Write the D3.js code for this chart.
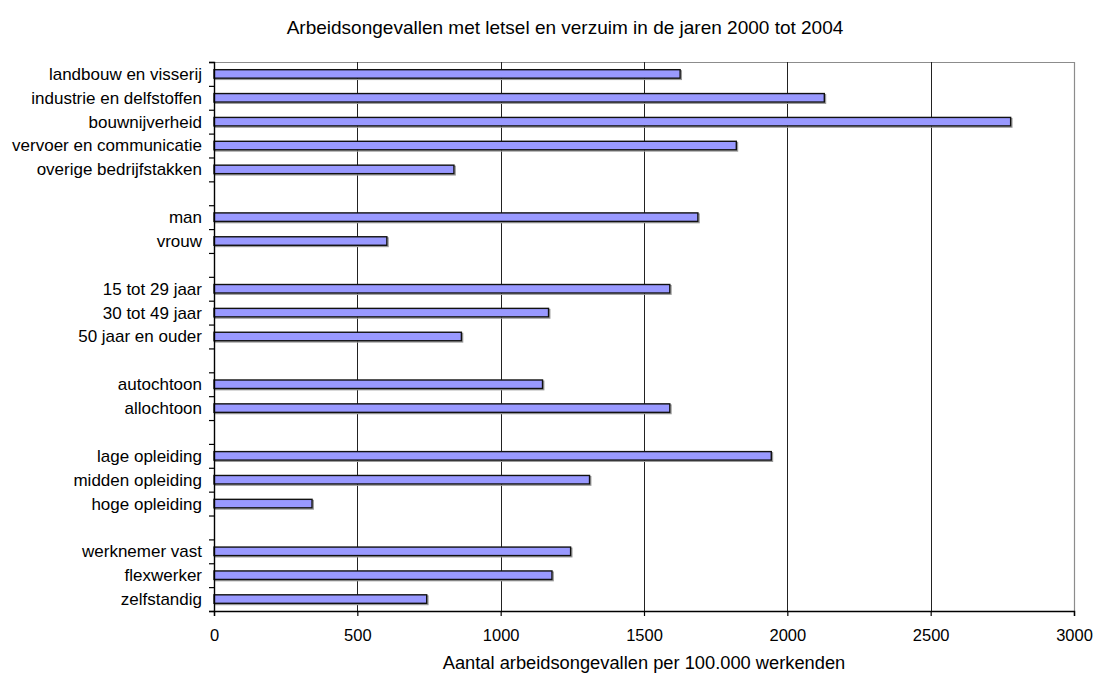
<!DOCTYPE html>
<html>
<head>
<meta charset="utf-8">
<script src="https://cdn.jsdelivr.net/npm/d3@7/dist/d3.min.js"></script>
<style>
  html, body { margin: 0; padding: 0; background: #fff; }
  svg { display: block; font-family: "Liberation Sans", Arial, sans-serif; }
</style>
</head>
<body>
<svg id="chart" width="1095" height="673"></svg>
<script>
// Accidents at work with injury and absence, per 100,000 workers (2000-2004)
const categories = [
  "landbouw en visserij", "industrie en delfstoffen", "bouwnijverheid",
  "vervoer en communicatie", "overige bedrijfstakken",
  "man", "vrouw",
  "15 tot 29 jaar", "30 tot 49 jaar", "50 jaar en ouder",
  "autochtoon", "allochtoon",
  "lage opleiding", "midden opleiding", "hoge opleiding",
  "werknemer vast", "flexwerker", "zelfstandig"
];
const values = [
  1626, 2129, 2779, 1822, 837,
  1688, 603,
  1590, 1167, 863,
  1146, 1590,
  1944, 1310, 342,
  1244, 1179, 742
];
// number of consecutive categories in each group; an empty row separates groups
const groupSizes = [5, 2, 3, 2, 3, 3];
const xTicks = [0, 500, 1000, 1500, 2000, 2500, 3000];
const title = "Arbeidsongevallen met letsel en verzuim in de jaren 2000 tot 2004";
const xTitle = "Aantal arbeidsongevallen per 100.000 werkenden";

// Build the row list with blank separator rows between groups
const rows = [];
let k = 0;
groupSizes.forEach((n, g) => {
  for (let i = 0; i < n; i++, k++) rows.push({ label: categories[k], value: values[k] });
  if (g < groupSizes.length - 1) rows.push({ label: null, value: null });
});

const svg = d3.select("#chart");
const plot = { left: 214, right: 1074, top: 62, bottom: 611 };

const x = d3.scaleLinear().domain([0, 3000]).range([plot.left, plot.right]);
const y = d3.scaleBand().domain(d3.range(rows.length)).range([plot.top, plot.bottom]).padding(0);
const rowEdge = d3.scaleLinear().domain([0, rows.length]).range([plot.top, plot.bottom]);

// Title
svg.append("text")
  .attr("x", 565).attr("y", 34)
  .attr("text-anchor", "middle")
  .attr("font-size", 19)
  .attr("fill", "#000")
  .text(title);

// Plot frame (top and right in grey)
svg.append("path")
  .attr("d", `M${plot.left},${plot.top + 0.5}H${plot.right + 0.5}V${plot.bottom}`)
  .attr("fill", "none").attr("stroke", "#8c8c8c").attr("stroke-width", 1.2);

// Vertical gridlines
svg.append("g").selectAll("line")
  .data(xTicks.filter(t => t > 0 && t < 3000))
  .join("line")
  .attr("x1", d => Math.round(x(d)) + 0.5).attr("x2", d => Math.round(x(d)) + 0.5)
  .attr("y1", plot.top).attr("y2", plot.bottom)
  .attr("stroke", "#222").attr("stroke-width", 1);

// Bars: grey drop shadow, then the filled bar with a dark outline
const barH = 8.5;
const data = rows.map((r, i) => ({ ...r, i })).filter(r => r.value != null);

svg.append("g").selectAll("rect")
  .data(data)
  .join("rect")
  .attr("x", x(0) + 1.2)
  .attr("y", d => y(d.i) + (y.bandwidth() - barH) / 2 + 1.2)
  .attr("width", d => x(d.value) - x(0))
  .attr("height", barH)
  .attr("fill", "none")
  .attr("stroke", "#9a9a9a")
  .attr("stroke-width", 1.4);

svg.append("g").selectAll("rect")
  .data(data)
  .join("rect")
  .attr("x", x(0))
  .attr("y", d => y(d.i) + (y.bandwidth() - barH) / 2)
  .attr("width", d => x(d.value) - x(0))
  .attr("height", barH)
  .attr("fill", "#9999ff")
  .attr("stroke", "#111")
  .attr("stroke-width", 1.4);

// Category axis: tick marks at every row edge
const yAxis = svg.append("g")
  .attr("transform", `translate(${plot.left},0)`)
  .call(d3.axisLeft(rowEdge).tickValues(d3.range(rows.length + 1)).tickSize(5).tickFormat(""));
yAxis.select(".domain").attr("stroke", "#000").attr("stroke-width", 1.4);
yAxis.selectAll(".tick line").attr("stroke", "#000").attr("stroke-width", 1.2);

// Category labels
svg.append("g").selectAll("text")
  .data(data)
  .join("text")
  .attr("x", 202)
  .attr("y", d => y(d.i) + y.bandwidth() / 2)
  .attr("dy", "0.35em")
  .attr("text-anchor", "end")
  .attr("font-size", 17)
  .attr("fill", "#000")
  .text(d => d.label);

// Value axis
const xAxis = svg.append("g")
  .attr("transform", `translate(0,${plot.bottom})`)
  .call(d3.axisBottom(x).tickValues(xTicks).tickSize(5).tickPadding(13).tickFormat(d3.format("d")));
xAxis.select(".domain").attr("stroke", "#000").attr("stroke-width", 1.4);
xAxis.selectAll(".tick line").attr("stroke", "#000").attr("stroke-width", 1.2);
xAxis.selectAll(".tick text")
  .attr("font-family", "'Liberation Sans', Arial, sans-serif")
  .attr("font-size", 16.5).attr("fill", "#000");

// Value axis title
svg.append("text")
  .attr("x", (plot.left + plot.right) / 2).attr("y", 669)
  .attr("text-anchor", "middle")
  .attr("font-size", 18.3)
  .attr("fill", "#000")
  .text(xTitle);
</script>
</body>
</html>
